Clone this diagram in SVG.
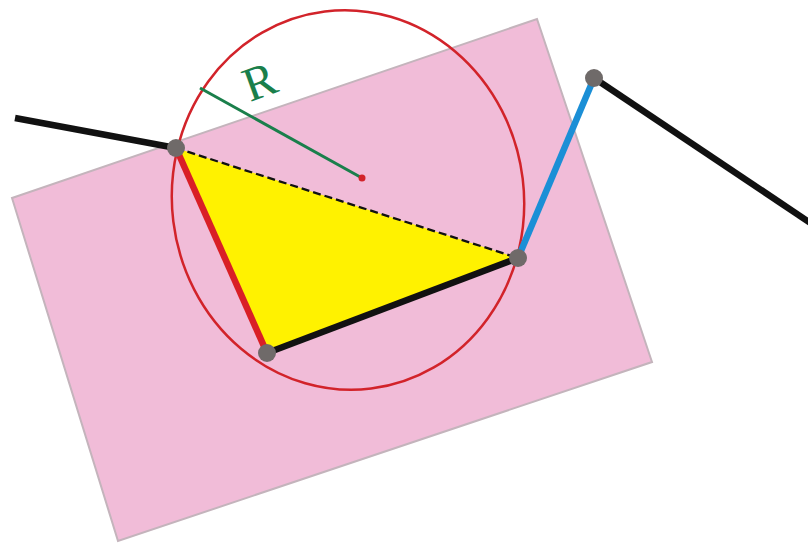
<svg xmlns="http://www.w3.org/2000/svg" width="808" height="544" viewBox="0 0 808 544">
<style>
.thick{stroke-width:6.5;stroke-linecap:butt;fill:none}
.node{fill:#6f6a69}
</style>
<rect width="808" height="544" fill="#ffffff"/>
<polygon points="12,198 537,19 652,362 118,541" fill="#f1bcd8" stroke="#c4b4bc" stroke-width="2"/>
<polygon points="176,148 518,258 267,353" fill="#fff200"/>
<ellipse cx="348" cy="200" rx="176" ry="190" transform="rotate(-7 348 200)" fill="none" stroke="#d2232a" stroke-width="2.5"/>
<g id="connectors">
<line x1="15" y1="118" x2="176" y2="148" class="thick" stroke="#111"/>
<line x1="594" y1="78" x2="812" y2="224" class="thick" stroke="#111"/>
<line x1="176" y1="148" x2="518" y2="258" stroke="#111" stroke-width="2.3" stroke-dasharray="8,4"/>
<line x1="176" y1="148" x2="267" y2="353" class="thick" stroke="#d91f26" stroke-width="5.5"/>
<line x1="267" y1="353" x2="518" y2="258" class="thick" stroke="#111"/>
<line x1="518" y1="258" x2="594" y2="78" class="thick" stroke="#1b8fd6"/>
<line x1="200" y1="88" x2="362" y2="178" stroke="#1a7f4b" stroke-width="3"/>
</g>
<circle cx="362" cy="178" r="3.5" fill="#d2232a"/>
<text x="250" y="102" transform="rotate(-20 250 102)" font-family="Liberation Serif, serif" font-size="48" fill="#1a7f4b">R</text>
<g id="nodeA"><circle class="node" cx="176" cy="148" r="9"/></g>
<g id="nodeB"><circle class="node" cx="518" cy="258" r="9"/></g>
<g id="nodeC"><circle class="node" cx="267" cy="353" r="9"/></g>
<g id="nodeD"><circle class="node" cx="594" cy="78" r="9"/></g>
</svg>
